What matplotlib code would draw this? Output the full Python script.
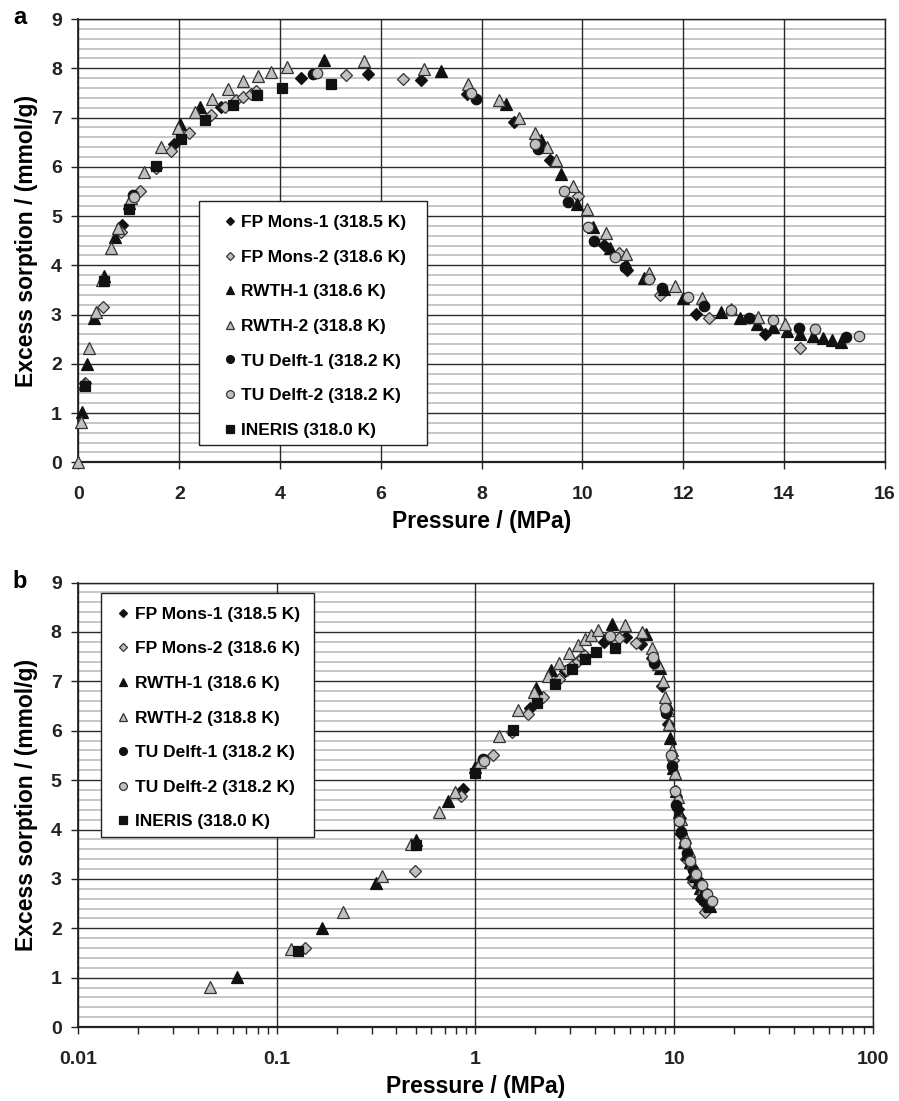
import matplotlib
matplotlib.use("Agg")
import matplotlib.pyplot as plt
import numpy as np
from matplotlib.patches import Rectangle
from matplotlib.ticker import MultipleLocator, NullFormatter, LogLocator

plt.rcParams['font.family'] = ['Liberation Sans', 'DejaVu Sans']
plt.rcParams['font.weight'] = 'bold'
plt.rcParams['axes.labelweight'] = 'bold'

# excess sorption isotherms, pressure in MPa, sorption in mmol/g
fp_mons1_p = [0.87, 1.89, 2.82, 4.42, 5.75, 6.79, 7.72, 8.65, 9.35, 10.42, 10.89, 12.25, 13.62]
fp_mons1_q = [4.82, 6.46, 7.21, 7.80, 7.89, 7.76, 7.47, 6.90, 6.14, 4.41, 3.90, 3.01, 2.60]

fp_mons2_p = [0.139, 0.495, 0.85, 1.23, 1.53, 1.83, 2.19, 2.62, 2.90, 3.12, 3.27, 3.42, 3.53,
              5.30, 6.45, 9.91, 10.72, 11.55, 12.52, 14.31]
fp_mons2_q = [1.61, 3.16, 4.67, 5.51, 5.97, 6.33, 6.69, 7.05, 7.22, 7.36, 7.42, 7.47, 7.53,
              7.87, 7.78, 5.41, 4.24, 3.40, 2.94, 2.33]

rwth1_p = [0.063, 0.168, 0.315, 0.499, 0.726, 1.0, 2.02, 2.41, 4.88, 7.20, 8.49, 9.17, 9.58,
           9.89, 10.22, 10.54, 10.87, 11.22, 11.62, 12.0, 12.76, 13.13, 13.47, 13.78, 14.06,
           14.32, 14.57, 14.78, 14.96, 15.13]
rwth1_q = [1.02, 2.00, 2.92, 3.79, 4.57, 5.27, 6.87, 7.22, 8.17, 7.95, 7.28, 6.54, 5.85,
           5.24, 4.78, 4.35, 4.03, 3.75, 3.51, 3.34, 3.06, 2.94, 2.81, 2.74, 2.67,
           2.61, 2.57, 2.52, 2.48, 2.45]

rwth2_p = [0.0, 0.046, 0.118, 0.216, 0.338, 0.476, 0.652, 0.79, 1.05, 1.31, 1.64, 1.97, 2.31,
           2.64, 2.97, 3.27, 3.56, 3.83, 4.14, 5.67, 6.86, 7.74, 8.34, 8.75, 9.05, 9.30, 9.48,
           9.81, 10.09, 10.47, 10.87, 11.33, 11.84, 12.38, 12.94, 13.49, 14.02]
rwth2_q = [0.0, 0.81, 1.58, 2.33, 3.05, 3.71, 4.35, 4.76, 5.37, 5.90, 6.41, 6.79, 7.11,
           7.38, 7.57, 7.74, 7.85, 7.93, 8.03, 8.15, 7.99, 7.68, 7.36, 7.00, 6.69, 6.41, 6.14,
           5.62, 5.14, 4.65, 4.22, 3.85, 3.57, 3.33, 3.12, 2.96, 2.81]

tud1_p = [1.09, 4.66, 7.88, 9.12, 9.71, 10.24, 10.84, 11.58, 12.41, 13.31, 14.30, 15.23]
tud1_q = [5.43, 7.88, 7.38, 6.36, 5.29, 4.50, 3.96, 3.53, 3.18, 2.94, 2.72, 2.55]

tud2_p = [1.11, 4.74, 7.79, 9.05, 9.64, 10.11, 10.64, 11.32, 12.09, 12.94, 13.78, 14.61, 15.49]
tud2_q = [5.39, 7.91, 7.49, 6.46, 5.51, 4.77, 4.17, 3.72, 3.36, 3.09, 2.88, 2.70, 2.56]

ineris_p = [0.128, 0.5, 1.0, 1.54, 2.04, 2.52, 3.07, 3.55, 4.04, 5.02]
ineris_q = [1.55, 3.68, 5.14, 6.02, 6.56, 6.95, 7.25, 7.46, 7.59, 7.68]

BLACK = '#111111'
GRAY = '#c0c0c0'
EDGE = '#333333'

series = [
    ('FP Mons-1 (318.5 K)', fp_mons1_p, fp_mons1_q, 'D', BLACK),
    ('FP Mons-2 (318.6 K)', fp_mons2_p, fp_mons2_q, 'D', GRAY),
    ('RWTH-1 (318.6 K)', rwth1_p, rwth1_q, '^', BLACK),
    ('RWTH-2 (318.8 K)', rwth2_p, rwth2_q, '^', GRAY),
    ('TU Delft-1 (318.2 K)', tud1_p, tud1_q, 'o', BLACK),
    ('TU Delft-2 (318.2 K)', tud2_p, tud2_q, 'o', GRAY),
    ('INERIS (318.0 K)', ineris_p, ineris_q, 's', BLACK),
]
marker_size = {'D': 6, '^': 8, 'o': 7.5, 's': 7}


def draw_series(ax, log=False):
    for label, p, q, marker, face in series:
        p = np.asarray(p)
        q = np.asarray(q)
        if log:
            # zero pressure cannot sit on a log axis
            keep = p > 0
            p, q = p[keep], q[keep]
        edge = BLACK if face == BLACK else EDGE
        ax.plot(p, q, ls='none', marker=marker, ms=marker_size[marker], mfc=face,
                mec=edge, mew=0.9, label=label, clip_on=False, zorder=3)


def style_axes(ax):
    ax.set_ylim(0, 9)
    ax.yaxis.set_major_locator(MultipleLocator(1))
    ax.yaxis.set_minor_locator(MultipleLocator(0.2))
    ax.set_axisbelow(True)
    # light 0.2 steps underneath, dark major grid on top of them
    for y in np.arange(0.2, 9, 0.2):
        if abs(y - round(y)) > 1e-6:
            ax.axhline(y, color='#c6c6c6', lw=1.4, zorder=0.2)
    ax.grid(which='major', axis='both', color='#2b2b2b', lw=1.0)
    ax.tick_params(which='both', direction='out', length=5, width=1, colors='#222222',
                   labelsize=14)
    ax.tick_params(axis='y', which='minor', length=0)
    ax.tick_params(axis='y', pad=7)
    ax.tick_params(axis='x', pad=12)
    for sp in ax.spines.values():
        sp.set_color('#222222')
        sp.set_linewidth(1.0)
    ax.spines['bottom'].set_linewidth(1.6)
    ax.spines['left'].set_linewidth(1.3)
    ax.set_ylabel('Excess sorption / (mmol/g)', fontsize=16.5, labelpad=9)
    ax.set_xlabel('Pressure / (MPa)', fontsize=16.5, labelpad=5)


def add_legend(ax, anchor, box):
    ax.add_patch(Rectangle(box[:2], box[2], box[3], transform=ax.transAxes,
                           facecolor='white', edgecolor='#222222', lw=1.0, zorder=4))
    leg = ax.legend(loc='upper left', bbox_to_anchor=anchor, frameon=False, fontsize=12.5,
                    handlelength=0.6, handletextpad=0.35, labelspacing=1.12, borderpad=0,
                    borderaxespad=0, markerscale=0.75, numpoints=1)
    leg.set_zorder(5)


fig = plt.figure(figsize=(8.99, 11.01), dpi=100)

# linear pressure axis
ax1 = fig.add_axes([0.0873, 0.5801, 0.8968, 0.4026])
draw_series(ax1)
ax1.set_xlim(0, 16)
ax1.xaxis.set_major_locator(MultipleLocator(2))
style_axes(ax1)
add_legend(ax1, (0.1815, 0.558), (0.1495, 0.039, 0.2832, 0.5504))

# logarithmic pressure axis
ax2 = fig.add_axes([0.0871, 0.0671, 0.8836, 0.4038])
draw_series(ax2, log=True)
ax2.set_xscale('log')
ax2.set_xlim(0.01, 100)
ax2.set_xticks([0.01, 0.1, 1, 10, 100], labels=['0.01', '0.1', '1', '10', '100'])
ax2.xaxis.set_minor_locator(LogLocator(base=10, subs=np.arange(2, 10)))
ax2.xaxis.set_minor_formatter(NullFormatter())
style_axes(ax2)
add_legend(ax2, (0.050, 0.9456), (0.0282, 0.4283, 0.2689, 0.5474))

fig.text(20 / 899, 1 - 18 / 1101, 'a', fontsize=17, ha='center', va='center')
fig.text(20 / 899, 1 - 582 / 1101, 'b', fontsize=17, ha='center', va='center')

fig.savefig('out.png', dpi=100)
